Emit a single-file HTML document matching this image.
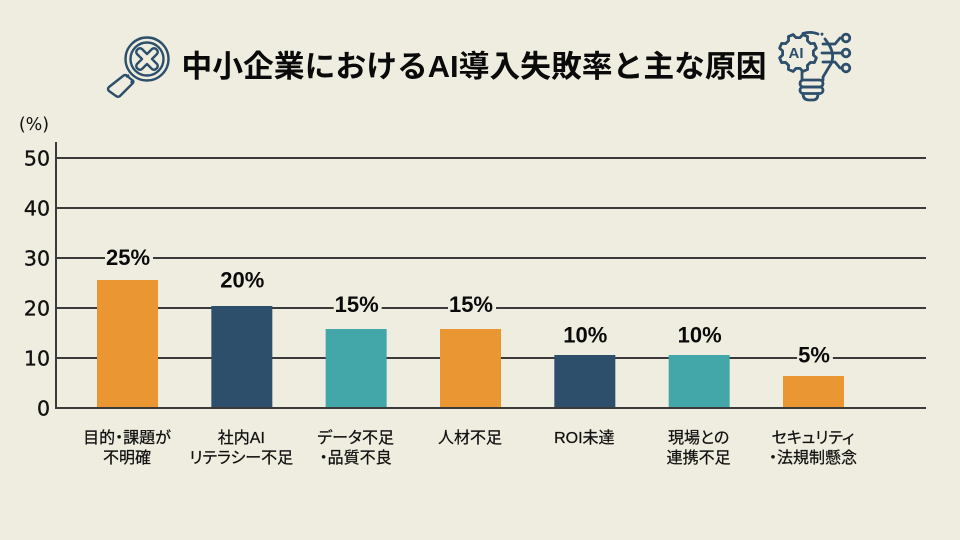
<!DOCTYPE html>
<html lang="ja">
<head>
<meta charset="utf-8">
<title>中小企業におけるAI導入失敗率と主な原因</title>
<style>
html,body{margin:0;padding:0;background:#efeddf;}
svg{display:block;}
text{font-family:"Liberation Sans","Noto Sans CJK JP",sans-serif;}
</style>
</head>
<body>
<svg id="chart" width="960" height="540" viewBox="0 0 960 540" xmlns="http://www.w3.org/2000/svg">
<rect width="960" height="540" fill="#efeddf"/>
<g fill="none" stroke="#2d4f6c" stroke-width="2.4" stroke-linejoin="round">
<circle cx="147" cy="59" r="21.5"/>
<circle cx="147" cy="59" r="16.5"/>
<path d="M142 49 L147 54 L152 49 Q154 47.500 156 49 L157 50 Q158.500 52 157 54 L152 59 L157 64 Q158.500 66 157 68 L156 69 Q154 70.500 152 69 L147 64 L142 69 Q140 70.500 138 69 L137 68 Q135.500 66 137 64 L142 59 L137 54 Q135.500 52 137 50 L138 49 Q140 47.500 142 49 Z"/>
<path d="M129 75 L126 77 M133 80 L131 83"/>
<path d="M123 76 L109 87 Q107 89 109 91 L116 96 Q118 97.500 120 96 L133 83 Q134 81 132 80 L126 75 Q124 75 123 76 Z"/>
</g>
<text x="474" y="77" text-anchor="middle" font-size="30.8" font-weight="700" fill="#0a0a0a">中小企業におけるAI導入失敗率と主な原因</text>
<g fill="none" stroke="#2d4f6c" stroke-width="2.8" stroke-linecap="round" stroke-linejoin="round">
<path id="gear-outline" d=""/>
<path d="M803 33.500 Q811 31 818 34"/>
<path d="M822 34 L822 34.300"/>
<path d="M825 39 Q838 55 829 67 L823 77 L823 80"/>
<path d="M802 72 L802 80"/>
<path d="M823 44 L835 44 L840 38 L842 38"/>
<path d="M822 53 L842 53"/>
<path d="M823 62 L835 62 L840 68 L842 68"/>
<circle cx="846" cy="38" r="3.800"/><circle cx="846" cy="53" r="3.800"/><circle cx="846" cy="68" r="3.800"/>
<rect x="800" y="80" width="23" height="7" rx="3.500"/>
<rect x="800" y="87" width="23" height="6.500" rx="3.200"/>
<path d="M803 93.500 Q803 100 809 100 L813 100 Q818 100 818 93.500"/>
</g>
<text x="796" y="58" text-anchor="middle" font-size="15" font-weight="700" fill="#2d4f6c">AI</text>
<text x="34" y="130" text-anchor="middle" font-size="17.500" style="font-family:'DejaVu Sans',sans-serif" fill="#111111">(%)</text>
<g id="plot"></g>
</svg>
<script>
const categories = [["目的・課題が","不明確"],["社内AI","リテラシー不足"],["データ不足","・品質不良"],["人材不足"],["ROI未達"],["現場との","連携不足"],["セキュリティ","・法規制懸念"]];
const values = [25.6, 20.4, 15.8, 15.8, 10.6, 10.6, 6.4];
const valueLabels = ["25%", "20%", "15%", "15%", "10%", "10%", "5%"];
const colors = ["#e99633", "#2d4f6c", "#43a6a9", "#e99633", "#2d4f6c", "#43a6a9", "#e99633"];
const ticks = [0, 10, 20, 30, 40, 50];

const NS = 'http://www.w3.org/2000/svg';
const plot = document.getElementById('plot');
const x0 = 56, x1 = 926, yZero = 408, yFifty = 158;
const firstCenter = 127.5, step = 114.33, barW = 61;
const labelGap = [22.5, 26, 24.5, 24.5, 20, 20, 21];
function yScale(v){ return yZero + (yFifty - yZero) * v / 50; }
function xScale(i){ return firstCenter + step * i; }
function make(tag, attrs, text){
  const el = document.createElementNS(NS, tag);
  for (const k in attrs) el.setAttribute(k, attrs[k]);
  if (text !== undefined) el.textContent = text;
  plot.appendChild(el);
  return el;
}
(function drawGear(){
  const cx = 798, cy = 53, teeth = 8;
  let d = '';
  for (let i = 0; i < teeth; i++) {
    const a = (i / teeth) * Math.PI * 2 + Math.PI / 8;
    const w = Math.PI / teeth * 0.5;
    const pts = [[15.5, a - w * 1.3], [19, a - w * 0.7], [19, a + w * 0.7], [15.5, a + w * 1.3]];
    pts.forEach(function(p, j){
      const px = cx + p[0] * Math.cos(p[1]), py = cy + p[0] * Math.sin(p[1]);
      d += (i === 0 && j === 0 ? 'M' : 'L') + px.toFixed(1) + ' ' + py.toFixed(1) + ' ';
    });
  }
  document.getElementById('gear-outline').setAttribute('d', d + 'Z');
})();
ticks.forEach(function(t){
  const y = yScale(t);
  const line = make('line', {x1: x0, x2: x1, y1: y, y2: y, stroke: '#3a3a3a', 'stroke-width': 2});
  
  
  const label = make('text', {x: 50, y: y + 7.5, 'text-anchor': 'end', 'font-size': 20.5, fill: '#111111', stroke: '#111111', 'stroke-width': 0.35, style: "font-family:'DejaVu Sans',sans-serif"}, t);
  
  
});
const axis = make('line', {x1: x0, x2: x0, y1: 142, y2: yZero + 1, stroke: '#3a3a3a', 'stroke-width': 2});


values.forEach(function(v, i){
  const cx = xScale(i), top = yScale(v);
  const bar = make('rect', {x: cx - barW / 2, y: top, width: barW, height: yZero - top - 1, fill: colors[i]});
  
  
  const txt = make('text', {x: cx + 0.5, y: top - labelGap[i] + 7.5, 'text-anchor': 'middle', 'font-size': 22, 'font-weight': 700, fill: '#0a0a0a'}, valueLabels[i]);
  
  
  const bb = txt.getBBox();
  const halo = document.createElementNS(NS, 'rect');
  halo.setAttribute('x', bb.x - 1);
  halo.setAttribute('y', bb.y);
  halo.setAttribute('width', bb.width + 4);
  halo.setAttribute('height', bb.height);
  halo.setAttribute('fill', '#efeddf');
  
  
  plot.insertBefore(halo, txt);
  categories[i].forEach(function(lineText, j){
    const cat = make('text', {x: cx - 0.5, y: 443 + j * 20, 'text-anchor': 'middle', 'font-size': 16, fill: '#111111', stroke: '#111111', 'stroke-width': 0.25, style: 'font-feature-settings:"palt"'}, lineText);
    
    
  });
});
</script>
</body>
</html>
